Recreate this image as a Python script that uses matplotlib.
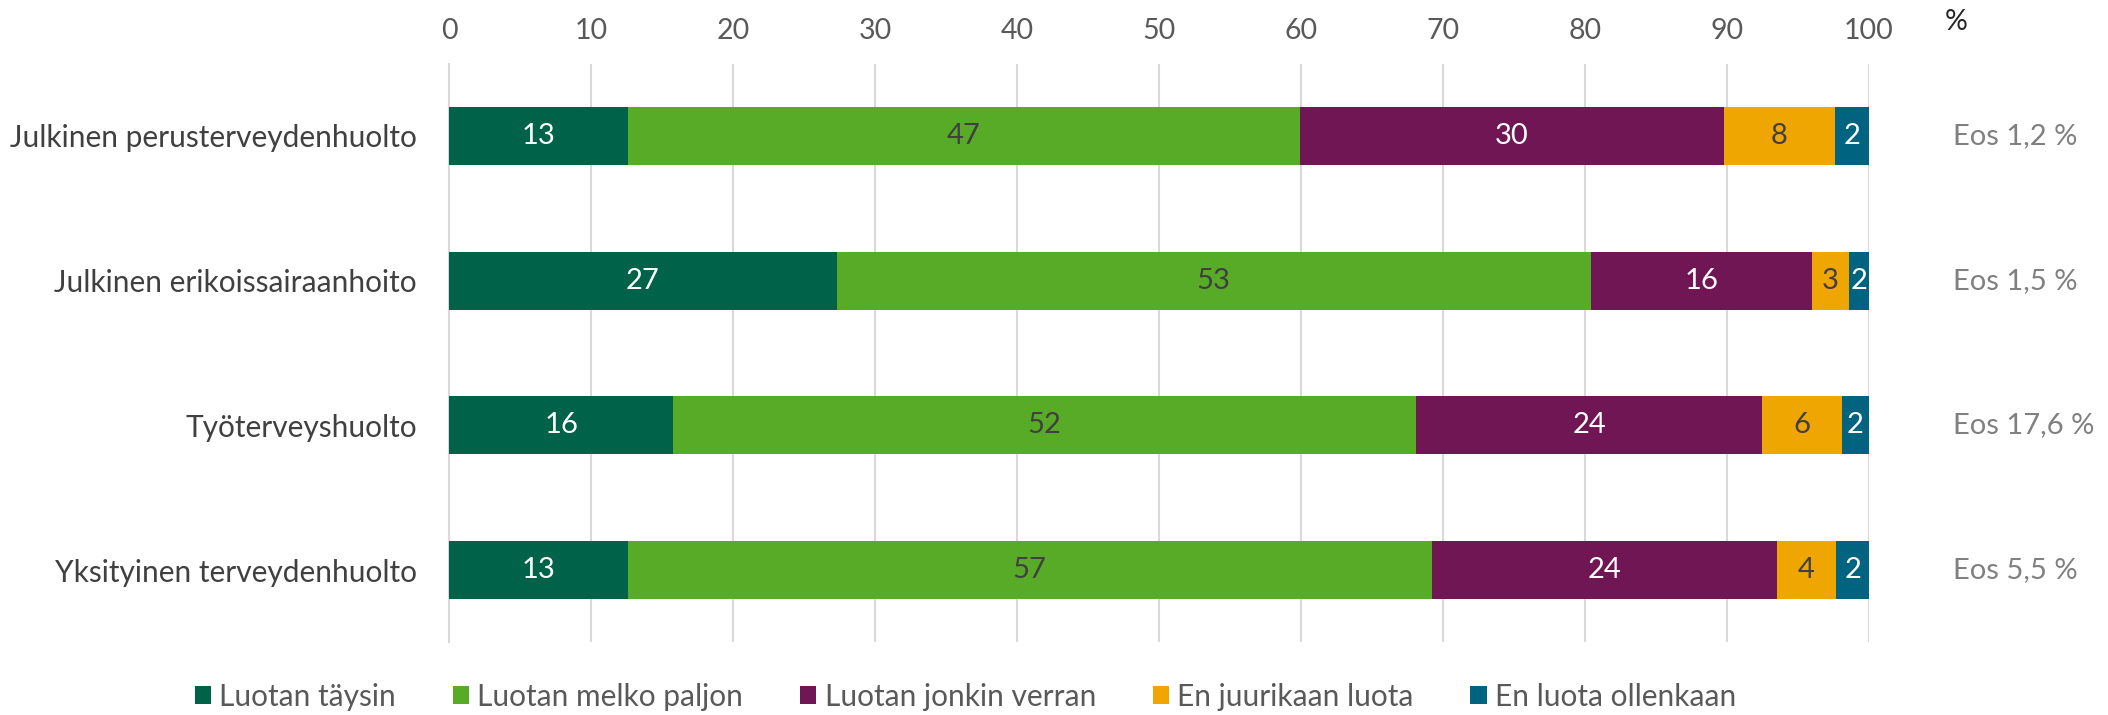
import matplotlib.pyplot as plt
import numpy as np

plt.rcParams['font.family'] = ['Lato', 'DejaVu Sans']

categories = ['Julkinen perusterveydenhuolto', 'Julkinen erikoissairaanhoito',
              'Työterveyshuolto', 'Yksityinen terveydenhuolto']
series = ['Luotan täysin', 'Luotan melko paljon', 'Luotan jonkin verran',
          'En juurikaan luota', 'En luota ollenkaan']
# share of respondents (%), per category
taysin = [12.6, 27.3, 15.8, 12.6]
melko = [47.3, 53.1, 52.3, 56.6]
jonkin = [29.9, 15.6, 24.4, 24.3]
juurikaan = [7.8, 2.6, 5.6, 4.2]
ollenkaan = [2.4, 1.5, 1.9, 2.3]
# labels shown on the bars
lbl_taysin = ['13', '27', '16', '13']
lbl_melko = ['47', '53', '52', '57']
lbl_jonkin = ['30', '16', '24', '24']
lbl_juurikaan = ['8', '3', '6', '4']
lbl_ollenkaan = ['2', '2', '2', '2']
eos = ['Eos 1,2 %', 'Eos 1,5 %', 'Eos 17,6 %', 'Eos 5,5 %']
ticks = [0, 10, 20, 30, 40, 50, 60, 70, 80, 90, 100]

values = [taysin, melko, jonkin, juurikaan, ollenkaan]
labels = [lbl_taysin, lbl_melko, lbl_jonkin, lbl_juurikaan, lbl_ollenkaan]
colors = ['#006349', '#58AB27', '#701655', '#EFA600', '#00637F']
txt_colors = ['white', '#404040', 'white', '#404040', 'white']

fig = plt.figure(figsize=(21.08, 7.15), dpi=100)
ax = fig.add_axes([0.213, 0.1014, 0.6736, 0.8096])

y = np.arange(len(categories))
left = np.zeros(len(categories))
for vals, lab, col, tc, name in zip(values, labels, colors, txt_colors, series):
    bars = ax.barh(y, vals, left=left, height=0.4, color=col, label=name, zorder=3)
    ax.bar_label(bars, labels=lab, label_type='center', color=tc, fontsize=21)
    left += np.array(vals)

ax.set_xlim(0, 100)
ax.set_ylim(len(categories) - 0.5, -0.5)
ax.set_yticks(y)
ax.set_yticklabels(categories, fontsize=21.5, color='#404040')
ax.set_xticks(ticks)
ax.xaxis.tick_top()
ax.tick_params(axis='x', labelsize=20.5, labelcolor='#595959', length=0, pad=14)
ax.tick_params(axis='y', length=0, pad=23)
ax.grid(axis='x', color='#d9d9d9', linewidth=1.5, zorder=0)
for s in ['top', 'right', 'bottom']:
    ax.spines[s].set_visible(False)
ax.spines['left'].set_color('#d9d9d9')
ax.spines['left'].set_linewidth(1.5)

fig.text(1945 / 2108, 1 - 22 / 715, '%', fontsize=20.5, color='#262626', va='center')
for i, t in enumerate(eos):
    ax.text(1.059, i, t, transform=ax.get_yaxis_transform(), fontsize=21,
            color='#808080', va='center', ha='left')

fig.legend(loc='center', bbox_to_anchor=(0.458, 1 - 697 / 715), ncol=5, frameon=False,
           fontsize=21.5, labelcolor='#595959', handlelength=0.55, handleheight=0.55,
           handletextpad=0.27, columnspacing=1.9)

fig.savefig('out.png', dpi=100)
